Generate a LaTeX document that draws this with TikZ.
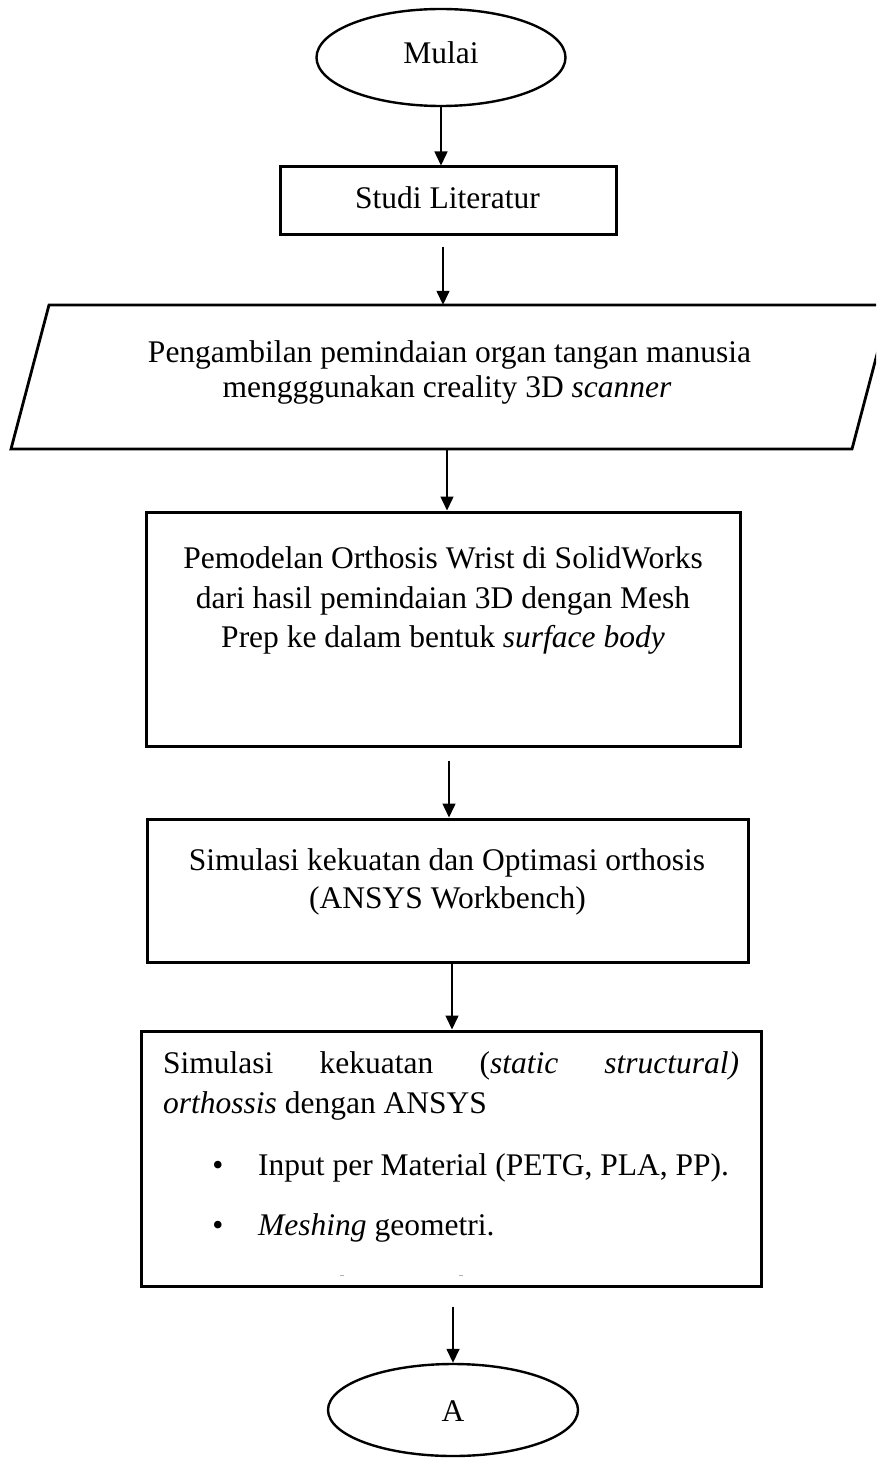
\documentclass[tikz,border=0pt]{standalone}
\usepackage{fontspec}
\setmainfont{Liberation Serif}
\usetikzlibrary{shapes.geometric,arrows.meta}
\begin{document}
\begin{tikzpicture}[x=1pt,y=-1pt,
  font=\fontsize{31.5pt}{38pt}\selectfont,
  arr/.style={line width=1.5pt,-{Triangle[length=14pt,width=13pt]}},
  boxshape/.style={draw,line width=3pt,rectangle,inner sep=0pt},
  term/.style={draw,line width=2.4pt,ellipse,inner sep=0pt},
  txt/.style={inner sep=0pt,anchor=base},
  txtl/.style={inner sep=0pt,anchor=base west}]
\useasboundingbox (0,0) rectangle (876,1458);
\clip (0,0) rectangle (876,1458);
\fill[white] (0,0) rectangle (876,1458);

% shapes
\node[term,minimum width=249pt,minimum height=97pt] (start) at (441,57.5) {};
\node[boxshape,minimum width=336pt,minimum height=67pt] (studi) at (448,200.5) {};
\node[draw=none,inner sep=0pt,minimum width=841pt,minimum height=144pt] (scan) at (450.5,377) {};
\draw[line width=2.8pt,line join=miter] (11,449) -- (49,305) -- (890,305) -- (852,449) -- cycle;
\node[boxshape,minimum width=594pt,minimum height=234pt] (model) at (443,629) {};
\node[boxshape,minimum width=601pt,minimum height=143pt] (sim) at (447.5,890.5) {};
\node[boxshape,minimum width=620pt,minimum height=255pt] (ansys) at (451,1158.5) {};
\node[term,minimum width=250pt,minimum height=92pt] (endA) at (453,1410) {};

% texts
\node[txt] (tstart) at (441,64) {Mulai};
\node[txt] (tstudi) at (447.5,208) {Studi Literatur};
\node[txt] (tscan1) at (449.5,362) {Pengambilan pemindaian organ tangan manusia};
\node[txt] (tscan2) at (447,397) {mengggunakan creality 3D \textit{scanner}};
\node[txt] (tmod1) at (443,568) {Pemodelan Orthosis Wrist di SolidWorks};
\node[txt] (tmod2) at (443,608) {dari hasil pemindaian 3D dengan Mesh};
\node[txt] (tmod3) at (443,647) {Prep ke dalam bentuk \textit{surface body}};
\node[txt] (tsim1) at (447,870) {Simulasi kekuatan dan Optimasi orthosis};
\node[txt] (tsim2) at (447.5,908) {(ANSYS Workbench)};
\node[txtl] (tan1) at (163,1073) {\makebox[576pt][s]{Simulasi kekuatan (\textit{static} \textit{structural)}}};
\node[txtl] (tan2) at (163,1113) {\textit{orthossis} dengan ANSYS};
\node[txt] (b1) at (218,1175) {\textbullet};
\node[txtl] (tan3) at (258,1175) {Input per Material (PETG, PLA, PP).};
\node[txt] (b2) at (218,1235) {\textbullet};
\node[txtl] (tan4) at (258,1235) {\textit{Meshing} geometri.};
\node[txt] (tA) at (453,1421) {A};

% tiny marks
\draw[gray!60,line width=0.8pt] (340,1275) -- (344,1275);
\draw[gray!60,line width=0.8pt] (459,1275) -- (463,1275);

% connectors
\draw[arr] (start.south) -- (start.south |- studi.north);
\draw[arr] ([xshift=-5pt,yshift=-11pt]studi.south) -- ([xshift=-5pt]studi.south |- scan.north);
\draw[arr] ([xshift=-3.5pt]scan.south) -- ([xshift=-3.5pt]scan.south |- model.north);
\draw[arr] ([xshift=6pt,yshift=-13pt]model.south) -- ([xshift=6pt]model.south |- sim.north);
\draw[arr] ([xshift=4.5pt]sim.south) -- ([xshift=4.5pt]sim.south |- ansys.north);
\draw[arr] ([xshift=2pt,yshift=-19pt]ansys.south) -- ([xshift=2pt]ansys.south |- endA.north);
\end{tikzpicture}
\end{document}
